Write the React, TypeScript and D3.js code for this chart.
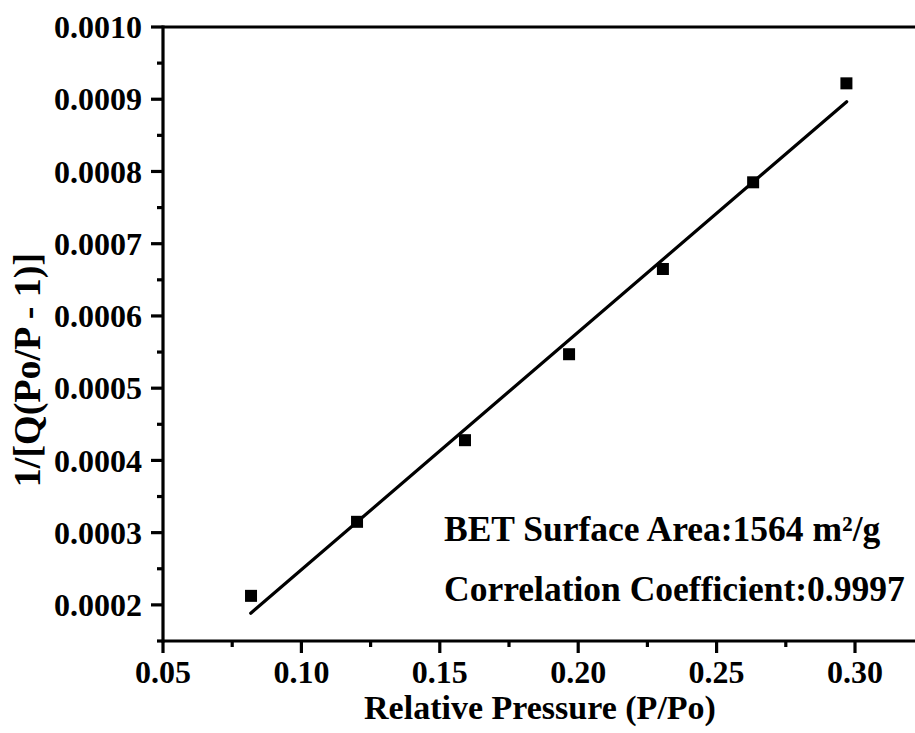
import React from "react";
import * as d3 from "d3";

const pressure = [0.0818, 0.1201, 0.1591, 0.1967, 0.2306, 0.2632, 0.2969];
const invQ = [0.0002125, 0.000315, 0.000428, 0.000547, 0.000665, 0.000785, 0.000922];
const fitX = [0.0817, 0.297];
const fitY = [0.0001885, 0.0008966];
const xTicks = [0.05, 0.1, 0.15, 0.2, 0.25, 0.3];
const xMinor = [0.075, 0.125, 0.175, 0.225, 0.275, 0.325];
const yTicks = [0.0002, 0.0003, 0.0004, 0.0005, 0.0006, 0.0007, 0.0008, 0.0009, 0.001];
const yMinor = [0.00015, 0.00025, 0.00035, 0.00045, 0.00055, 0.00065, 0.00075, 0.00085, 0.00095];
const xTitle = "Relative Pressure (P/Po)";
const yTitle = "1/[Q(Po/P - 1)]";
const notes = ["BET Surface Area:1564 m²/g", "Correlation Coefficient:0.9997"];

const W = 915;
const H = 733;
const FONT = "'Liberation Serif', 'Times New Roman', serif";

export default function App() {
  const x = d3.scaleLinear().domain([0.05, 0.3]).range([163, 855]);
  const y = d3.scaleLinear().domain([0.00015, 0.001]).range([641, 27]);
  const left = x(0.05);
  const bottom = y(0.00015);
  const top = y(0.001);
  const line = d3
    .line<number>()
    .x((_, i) => x(fitX[i]))
    .y((d) => y(d));
  const sq = 12;
  return (
    <svg
      width={W}
      height={H}
      style={{ position: "absolute", left: 0, top: 0, background: "#fff" }}
      fontFamily={FONT}
      fontWeight="bold"
    >
      <rect x={0} y={0} width={W} height={H} fill="#fff" />
      <path d={line(fitY) || ""} fill="none" stroke="#000" strokeWidth={3.2} strokeLinecap="round" />
      {pressure.map((p, i) => (
        <rect key={i} x={x(p) - sq / 2} y={y(invQ[i]) - sq / 2} width={sq} height={sq} fill="#000" />
      ))}
      <line x1={left} x2={W} y1={bottom} y2={bottom} stroke="#000" strokeWidth={3.2} />
      <line x1={left} x2={W} y1={top} y2={top} stroke="#000" strokeWidth={3.2} />
      <line x1={left} x2={left} y1={top - 1.6} y2={bottom + 1.6} stroke="#000" strokeWidth={3.2} />
      {xTicks.map((t) => (
        <g key={"xt" + t}>
          <line x1={x(t)} x2={x(t)} y1={bottom} y2={bottom + 12} stroke="#000" strokeWidth={3.2} />
          <text x={x(t)} y={683} textAnchor="middle" fontSize={32}>
            {d3.format(".2f")(t)}
          </text>
        </g>
      ))}
      {xMinor.map((t) => (
        <line key={"xm" + t} x1={x(t)} x2={x(t)} y1={bottom} y2={bottom + 6} stroke="#000" strokeWidth={3.2} />
      ))}
      {yTicks.map((t) => (
        <g key={"yt" + t}>
          <line x1={left - 12} x2={left} y1={y(t)} y2={y(t)} stroke="#000" strokeWidth={3.2} />
          <text x={142} y={y(t)} dy="0.35em" textAnchor="end" fontSize={32}>
            {d3.format(".4f")(t)}
          </text>
        </g>
      ))}
      {yMinor.map((t) => (
        <line key={"ym" + t} x1={left - 6} x2={left} y1={y(t)} y2={y(t)} stroke="#000" strokeWidth={3.2} />
      ))}
      <text x={540} y={719} textAnchor="middle" fontSize={34}>
        {xTitle}
      </text>
      <text
        transform={`translate(40, 370) rotate(-90)`}
        textAnchor="middle"
        fontSize={38}
      >
        {yTitle}
      </text>
      {notes.map((n, i) => (
        <text key={n} x={444} y={541 + i * 60} fontSize={35.5}>
          {n}
        </text>
      ))}
    </svg>
  );
}
